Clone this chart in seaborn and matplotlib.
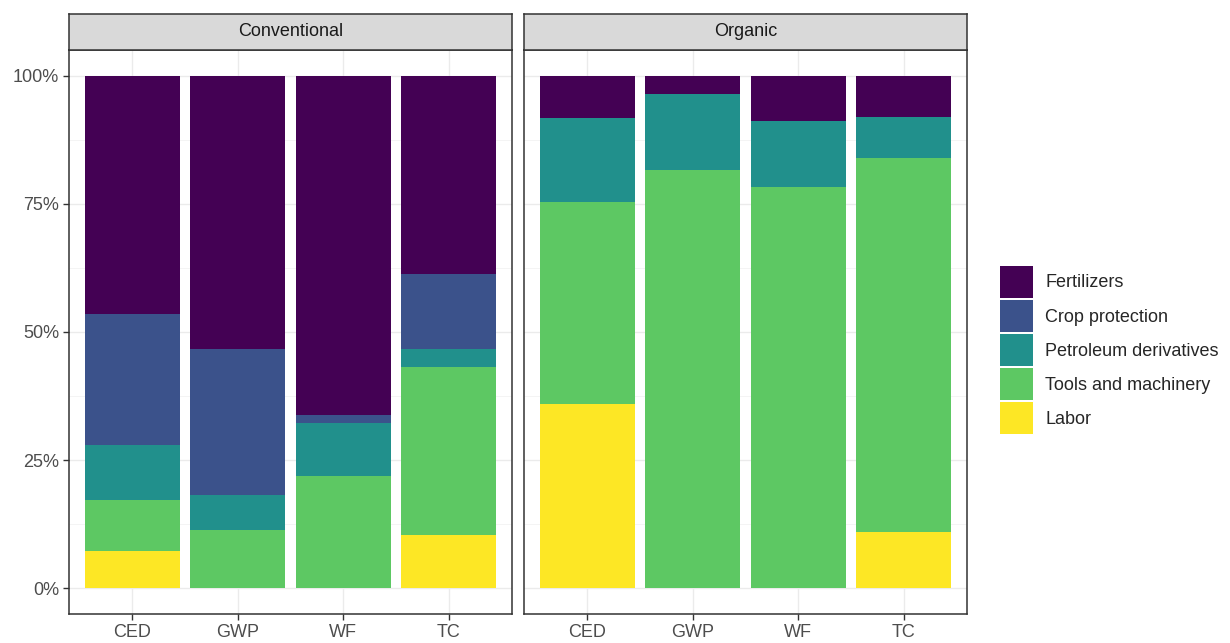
import matplotlib
matplotlib.use("Agg")
import matplotlib.pyplot as plt
from matplotlib.patches import Patch
from matplotlib.ticker import PercentFormatter, MultipleLocator
import seaborn as sns
import pandas as pd

# data (percent of each indicator)
indicators = ["CED", "GWP", "WF", "TC"]
components = ["Fertilizers", "Crop protection", "Petroleum derivatives",
              "Tools and machinery", "Labor"]
systems = ["Conventional", "Organic"]

conv_fert = [46.4, 53.4, 66.1, 38.7]
conv_crop = [25.6, 28.3, 1.7, 14.6]
conv_petro = [10.8, 7.0, 10.3, 3.6]
conv_tools = [10.0, 11.3, 21.9, 32.7]
conv_labor = [7.2, 0.0, 0.0, 10.4]

org_fert = [8.3, 3.6, 8.9, 8.0]
org_crop = [0.0, 0.0, 0.0, 0.0]
org_petro = [16.4, 14.9, 12.8, 8.1]
org_tools = [39.4, 81.5, 78.3, 73.0]
org_labor = [35.9, 0.0, 0.0, 10.9]

colors = ["#440154", "#3B528B", "#21908C", "#5DC863", "#FDE725"]

rows = []
for sys_name, series in [("Conventional", [conv_fert, conv_crop, conv_petro, conv_tools, conv_labor]),
                         ("Organic", [org_fert, org_crop, org_petro, org_tools, org_labor])]:
    for comp, vals in zip(components, series):
        for ind, v in zip(indicators, vals):
            rows.append({"system": sys_name, "indicator": ind, "component": comp, "share": v})
df = pd.DataFrame(rows)

sns.set_style("white")
plt.rcParams["font.family"] = ["Liberation Sans", "DejaVu Sans"]

FS = 13
W, H = 1230, 643
fig = plt.figure(figsize=(W / 100, H / 100), dpi=100)

panels = [(69, 512), (524, 967)]
ptop, pbot, stop = 50, 614, 14

for (x0, x1), sys_name in zip(panels, systems):
    ax = fig.add_axes([x0 / W, (H - pbot) / H, (x1 - x0) / W, (pbot - ptop) / H])
    sub = df[df.system == sys_name]
    sns.histplot(data=sub, x="indicator", weights="share", hue="component",
                 hue_order=components, palette=colors, multiple="fill",
                 discrete=True, shrink=0.9, linewidth=0, edgecolor="none",
                 alpha=1, legend=False, ax=ax)
    ax.set_xlim(-0.6, 3.6)
    ax.set_ylim(-0.05, 1.05)
    ax.set_xticks(range(len(indicators)))
    ax.set_xticklabels(indicators)
    ax.yaxis.set_major_locator(MultipleLocator(0.25))
    ax.yaxis.set_minor_locator(MultipleLocator(0.125))
    ax.yaxis.set_major_formatter(PercentFormatter(1.0, decimals=0))
    ax.set_xlabel("")
    ax.set_ylabel("")
    ax.grid(True, which="major", color="#EBEBEB", linewidth=1.0)
    ax.grid(True, which="minor", axis="y", color="#F2F2F2", linewidth=0.6)
    ax.set_axisbelow(True)
    for s in ax.spines.values():
        s.set_color("#333333")
        s.set_linewidth(1.1)
        s.set_visible(True)
    ax.tick_params(axis="both", which="major", length=4, width=1, color="#333333",
                   labelsize=FS, labelcolor="#4D4D4D", pad=3, left=True, bottom=True)
    ax.tick_params(axis="y", which="minor", length=0)
    if sys_name != systems[0]:
        ax.tick_params(axis="y", labelleft=False, left=False)

    sax = fig.add_axes([x0 / W, (H - ptop) / H, (x1 - x0) / W, (ptop - stop) / H])
    sax.set_facecolor("#D9D9D9")
    sax.set_xticks([])
    sax.set_yticks([])
    for s in sax.spines.values():
        s.set_color("#333333")
        s.set_linewidth(1.1)
    sax.text(0.5, 0.5, sys_name, ha="center", va="center", fontsize=FS,
             color="#1A1A1A", transform=sax.transAxes)

handles = [Patch(facecolor=c, edgecolor="none", label=l) for c, l in zip(colors, components)]
fig.legend(handles=handles, loc="center left", bbox_to_anchor=(1000 / W, (H - 350) / H),
           frameon=False, fontsize=FS, handlelength=1.8, handleheight=2.4,
           labelspacing=0.08, handletextpad=0.7, borderaxespad=0, borderpad=0)

fig.savefig("out.png", dpi=100)
